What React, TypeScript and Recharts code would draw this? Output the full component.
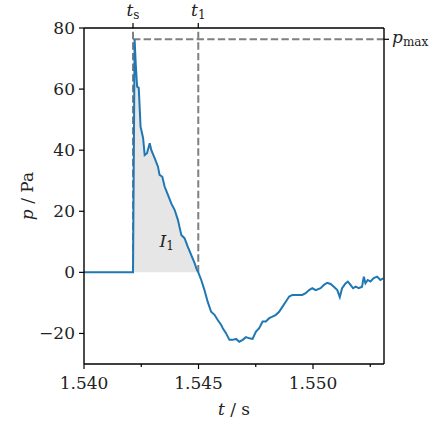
import React from 'react';
import {
  ComposedChart, Line, Area, XAxis, YAxis, ReferenceLine, ReferenceDot,
} from 'recharts';

const timeS = [
  1.54000, 1.54214, 1.54221, 1.54226, 1.54232, 1.54239, 1.54247, 1.54258, 1.54265, 1.54275,
  1.54287, 1.54294, 1.54309, 1.54323, 1.54330, 1.54342, 1.54352, 1.54367, 1.54381, 1.54396,
  1.54410, 1.54425, 1.54439, 1.54453, 1.54468, 1.54483, 1.54493, 1.54499, 1.54512, 1.54526,
  1.54540, 1.54555, 1.54570, 1.54584, 1.54599, 1.54606, 1.54620, 1.54635, 1.54649, 1.54664,
  1.54678, 1.54693, 1.54707, 1.54722, 1.54736, 1.54751, 1.54765, 1.54780, 1.54794, 1.54809,
  1.54823, 1.54838, 1.54852, 1.54867, 1.54881, 1.54896, 1.54910, 1.54932, 1.54953, 1.54968,
  1.54983, 1.54997, 1.55012, 1.55033, 1.55048, 1.55062, 1.55077, 1.55091, 1.55106, 1.55117,
  1.55127, 1.55142, 1.55152, 1.55164, 1.55175, 1.55186, 1.55200, 1.55214, 1.55222, 1.55229,
  1.55239, 1.55251, 1.55265, 1.55280, 1.55294, 1.55306,
];
const pressurePa = [
  0, 0, 76.3, 68, 60.8, 60.4, 47.7, 44, 38.4, 39,
  42.3, 40, 37.3, 34.6, 31.9, 31.3, 28.1, 25.3, 22.6, 20.4,
  17.2, 12.2, 11.2, 8.4, 5.7, 3.0, 0.8, 0.0, -2.5, -5.8,
  -9.6, -12.9, -13.9, -15.6, -17.2, -18.3, -19.9, -22.1, -22.1, -21.8,
  -22.7, -22.1, -21.2, -21.6, -21.8, -19.4, -18.3, -16.1, -16.1, -15.0,
  -14.5, -13.9, -12.9, -11.2, -9.6, -7.9, -7.4, -7.4, -7.4, -6.8,
  -5.8, -5.2, -5.8, -5.2, -4.1, -3.4, -3.8, -4.7, -5.8, -8.1,
  -5.2, -3.6, -3.0, -4.1, -5.2, -4.7, -5.2, -4.7, -1.4, -3.6,
  -2.5, -3.0, -1.9, -1.4, -2.5, -2.0,
];

const tS = 1.54214;
const t1 = 1.54499;
const pMax = 76.3;
const i1Pos = { t: 1.54361, p: 10.3 };

const xTicks = [1.540, 1.5425, 1.545, 1.5475, 1.550, 1.5525];
const xMajor = [1.540, 1.545, 1.550];
const topTicks = [tS, t1];
const yTicks = [-20, 0, 20, 40, 60, 80];
const xDomain = [1.540, 1.5531];
const yDomain = [-30, 80];

const data = timeS.map((t, i) => ({ t, p: pressurePa[i] }));
const fillData = data.filter((d) => d.t >= tS && d.t <= t1);

const SERIF = 'DejaVu Serif';
const FS = 17;
const SUB = 12;
const AX = '#000';
const TXT = '#222';

const BottomTick = (props: any) => {
  const { x, y, payload } = props;
  const v = payload.value;
  const major = xMajor.some((m) => Math.abs(m - v) < 1e-9);
  return (
    <g>
      <line x1={x} x2={x} y1={y} y2={y + (major ? 5 : 3)} stroke={AX} strokeWidth={1.2} />
      {major && (
        <text x={x} y={y + 25} textAnchor="middle" style={{ fontFamily: SERIF, fontSize: FS }} fill={TXT}>
          {v.toFixed(3)}
        </text>
      )}
    </g>
  );
};

const LeftTick = (props: any) => {
  const { x, y, payload } = props;
  const v = payload.value;
  const s = String(v).replace('-', '\u2212');
  return (
    <g>
      <line x1={x - 5} x2={x} y1={y} y2={y} stroke={AX} strokeWidth={1.2} />
      <text x={x - 9} y={y + 6} textAnchor="end" style={{ fontFamily: SERIF, fontSize: FS }} fill={TXT}>
        {s}
      </text>
    </g>
  );
};

const TopTick = (props: any) => {
  const { x, y, index } = props;
  const sub = index === 0 ? 's' : '1';
  return (
    <g>
      <line x1={x} x2={x} y1={y - 5} y2={y} stroke={AX} strokeWidth={1.2} />
      <text x={x} y={y - 12} textAnchor="middle" style={{ fontFamily: SERIF, fontSize: FS }} fill={TXT}>
        <tspan fontStyle="italic">t</tspan>
        <tspan style={{ fontSize: SUB }} dy={3}>{sub}</tspan>
      </text>
    </g>
  );
};

const RightTick = (props: any) => {
  const { x, y } = props;
  return (
    <g>
      <line x1={x} x2={x + 5} y1={y} y2={y} stroke={AX} strokeWidth={1.2} />
      <text x={x + 8} y={y + 4} textAnchor="start" style={{ fontFamily: SERIF, fontSize: FS }} fill={TXT}>
        <tspan fontStyle="italic">p</tspan>
        <tspan style={{ fontSize: SUB }} dy={3}>max</tspan>
      </text>
    </g>
  );
};

const XTitle = (props: any) => {
  const vb = props.viewBox || {};
  const cx = vb.x + vb.width / 2;
  return (
    <text x={cx} y={415} textAnchor="middle" style={{ fontFamily: SERIF, fontSize: FS }} fill={TXT}>
      <tspan fontStyle="italic">t</tspan>
      <tspan> / s</tspan>
    </text>
  );
};

const YTitle = (props: any) => {
  const vb = props.viewBox || {};
  const cy = vb.y + vb.height / 2;
  const cx = 27;
  return (
    <text
      x={cx}
      y={cy}
      transform={`rotate(-90 ${cx} ${cy})`}
      textAnchor="middle"
      dominantBaseline="central"
      style={{ fontFamily: SERIF, fontSize: FS }}
      fill={TXT}
    >
      <tspan fontStyle="italic">p</tspan>
      <tspan> / Pa</tspan>
    </text>
  );
};

const I1Shape = (props: any) => {
  const { cx, cy } = props;
  return (
    <text x={cx} y={cy + 6} textAnchor="middle" style={{ fontFamily: SERIF, fontSize: FS }} fill={TXT}>
      <tspan fontStyle="italic">I</tspan>
      <tspan style={{ fontSize: SUB }} dy={3}>1</tspan>
    </text>
  );
};

const dash = { stroke: '#808080', strokeWidth: 2, strokeDasharray: '7.4 3.2' };

export default function App() {
  return (
    <div style={{ position: 'absolute', left: 0, top: 0, width: 429, height: 426, background: '#fff' }}>
      <ComposedChart
        width={429}
        height={426}
        data={data}
        margin={{ top: 0, right: 0, bottom: 0, left: 0 }}
      >
        <XAxis
          dataKey="t"
          type="number"
          domain={xDomain}
          ticks={xTicks}
          allowDataOverflow
          height={62}
          tickSize={0}
          tickMargin={0}
          tickLine={false}
          tick={<BottomTick />}
          axisLine={{ stroke: AX, strokeWidth: 1.4 }}
          interval={0}
          label={<XTitle />}
        />
        <XAxis
          xAxisId="top"
          dataKey="t"
          orientation="top"
          type="number"
          domain={xDomain}
          ticks={topTicks}
          allowDataOverflow
          height={28}
          tickSize={0}
          tickMargin={0}
          tickLine={false}
          tick={<TopTick />}
          axisLine={{ stroke: AX, strokeWidth: 1.4 }}
          interval={0}
          minTickGap={0}
        />
        <YAxis
          type="number"
          domain={yDomain}
          ticks={yTicks}
          allowDataOverflow
          width={84}
          tickSize={0}
          tickMargin={0}
          tickLine={false}
          tick={<LeftTick />}
          axisLine={{ stroke: AX, strokeWidth: 1.4 }}
          interval={0}
          label={<YTitle />}
        />
        <YAxis
          yAxisId="right"
          orientation="right"
          type="number"
          domain={yDomain}
          ticks={[pMax]}
          allowDataOverflow
          width={45}
          tickSize={0}
          tickMargin={0}
          tickLine={false}
          tick={<RightTick />}
          axisLine={{ stroke: AX, strokeWidth: 1.4 }}
          interval={0}
        />
        <Area
          data={fillData}
          dataKey="p"
          type="linear"
          baseValue={0}
          stroke="none"
          fill="#e6e6e6"
          fillOpacity={1}
          isAnimationActive={false}
          dot={false}
          activeDot={false}
        />
        <ReferenceLine segment={[{ x: tS, y: 0 }, { x: tS, y: 80 }]} {...dash} />
        <ReferenceLine segment={[{ x: t1, y: 0 }, { x: t1, y: 80 }]} {...dash} />
        <ReferenceLine segment={[{ x: tS, y: pMax }, { x: xDomain[1], y: pMax }]} {...dash} />
        <Line
          dataKey="p"
          type="linear"
          stroke="#1f77b4"
          strokeWidth={2}
          dot={false}
          activeDot={false}
          isAnimationActive={false}
        />
        <ReferenceDot x={i1Pos.t} y={i1Pos.p} r={0} shape={<I1Shape />} />
      </ComposedChart>
    </div>
  );
}
